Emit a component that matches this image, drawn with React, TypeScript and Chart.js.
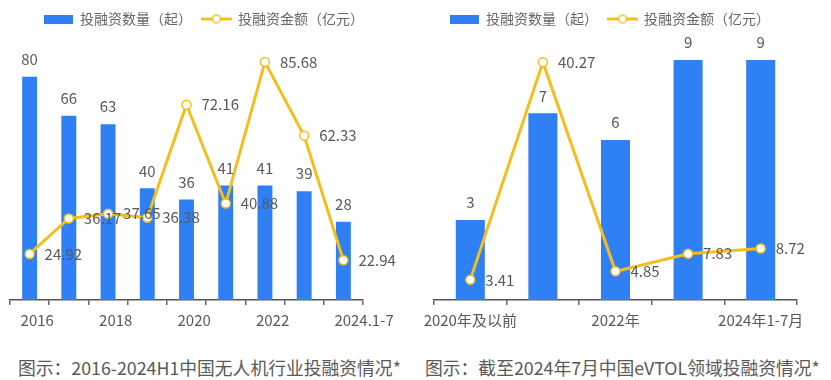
import React, { useEffect, useRef } from "react";
import { Chart, registerables } from "chart.js";

Chart.register(...registerables);

// ---------- data ----------
const droneCategories = ["2016", "2017", "2018", "2019", "2020", "2021", "2022", "2023", "2024.1-7"];
const droneCounts = [80, 66, 63, 40, 36, 41, 41, 39, 28];
const droneAmounts = [24.92, 36.17, 37.65, 36.38, 72.16, 40.88, 85.68, 62.33, 22.94];

const evtolCategories = ["2020年及以前", "2021年", "2022年", "2023年", "2024年1-7月"];
const evtolCounts = [3, 7, 6, 9, 9];
const evtolAmounts = [3.41, 40.27, 4.85, 7.83, 8.72];

const seriesNames = ["投融资数量（起）", "投融资金额（亿元）"];
const captions = [
  "图示：2016-2024H1中国无人机行业投融资情况*",
  "图示：截至2024年7月中国eVTOL领域投融资情况*",
];

// ---------- styles ----------
const FONT = '"Noto Sans CJK SC", "Noto Sans", sans-serif';
const BLUE = "#2F7FF5";
const GOLD = "#F4BE1C";
const TEXT = "#595959";

function makeBarIcon(): HTMLCanvasElement {
  const c = document.createElement("canvas");
  c.width = 29;
  c.height = 9;
  const g = c.getContext("2d")!;
  g.fillStyle = BLUE;
  g.fillRect(0, 0, 29, 9);
  return c;
}

function makeLineIcon(): HTMLCanvasElement {
  const c = document.createElement("canvas");
  c.width = 31;
  c.height = 11;
  const g = c.getContext("2d")!;
  g.strokeStyle = GOLD;
  g.lineWidth = 3;
  g.beginPath();
  g.moveTo(0, 5.5);
  g.lineTo(31, 5.5);
  g.stroke();
  g.beginPath();
  g.arc(15.5, 5.5, 4, 0, Math.PI * 2);
  g.fillStyle = "#fff";
  g.fill();
  g.lineWidth = 1.5;
  g.stroke();
  return c;
}

const valueLabels = {
  id: "valueLabels",
  afterDatasetsDraw(chart: any) {
    const ctx = chart.ctx;
    chart.data.datasets.forEach((ds: any, di: number) => {
      const meta = chart.getDatasetMeta(di);
      meta.data.forEach((el: any, i: number) => {
        const v = ds.data[i];
        ctx.save();
        ctx.font = `15px ${FONT}`;
        ctx.fillStyle = TEXT;
        ctx.textBaseline = "middle";
        if (meta.type === "bar") {
          ctx.textAlign = "center";
          ctx.fillText(String(v), el.x, el.y - 17.5);
        } else {
          ctx.textAlign = "left";
          ctx.fillText(Number(v).toFixed(2), el.x + 15, el.y);
        }
        ctx.restore();
      });
    });
  },
};

interface Cfg {
  categories: string[];
  counts: number[];
  amounts: number[];
  barMax: number;
  lineMin: number;
  lineMax: number;
  barPct: number;
  leftW: number;
  rightW: number;
  labelAlign: "start" | "center";
  labelOffset: number;
}

function buildChart(canvas: HTMLCanvasElement, cfg: Cfg) {
  const barIcon = makeBarIcon();
  const lineIcon = makeLineIcon();
  return new Chart(canvas, {
    type: "bar",
    data: {
      labels: cfg.categories,
      datasets: [
        {
          type: "bar",
          label: seriesNames[0],
          data: cfg.counts,
          backgroundColor: BLUE,
          yAxisID: "y",
          order: 2,
          categoryPercentage: 1,
          barPercentage: cfg.barPct,
        },
        {
          type: "line",
          label: seriesNames[1],
          data: cfg.amounts,
          borderColor: GOLD,
          borderWidth: 3,
          pointRadius: 4.5,
          pointBorderWidth: 1.5,
          pointBackgroundColor: "#fff",
          pointBorderColor: GOLD,
          tension: 0,
          yAxisID: "y1",
          order: 1,
        } as any,
      ],
    },
    options: {
      animation: false,
      responsive: false,
      maintainAspectRatio: false,
      layout: { padding: 0 },
      plugins: {
        tooltip: { enabled: false },
        legend: {
          display: true,
          position: "top",
          labels: {
            usePointStyle: true,
            pointStyleWidth: 29,
            padding: 10,
            color: "#666",
            font: { family: FONT, size: 14 },
            generateLabels: () => [
              { text: seriesNames[0], pointStyle: barIcon as any, fillStyle: BLUE, strokeStyle: BLUE, lineWidth: 0, hidden: false, datasetIndex: 0, fontColor: "#666" },
              { text: seriesNames[1], pointStyle: lineIcon as any, fillStyle: GOLD, strokeStyle: GOLD, lineWidth: 0, hidden: false, datasetIndex: 1, fontColor: "#666" },
            ],
          },
        },
      },
      scales: {
        x: {
          offset: true,
          grid: {
            display: true,
            offset: true,
            drawOnChartArea: false,
            drawTicks: true,
            tickLength: 5,
            color: "#666",
            lineWidth: 1.5,
          },
          border: { display: true, color: "#555", width: 1.5 },
          ticks: {
            autoSkip: false,
            maxRotation: 0,
            minRotation: 0,
            padding: 6,
            align: cfg.labelAlign,
            labelOffset: cfg.labelOffset,
            color: TEXT,
            font: { family: FONT, size: 15 },
            callback: (_v: any, i: number) => (i % 2 === 0 ? cfg.categories[i] : ""),
          },
          afterFit: (s: any) => {
            s.paddingLeft = 0;
            s.paddingRight = 0;
          },
        } as any,
        y: {
          position: "left",
          min: 0,
          max: cfg.barMax,
          ticks: { display: false },
          grid: { display: false },
          border: { display: false },
          afterFit: (s: any) => {
            s.width = cfg.leftW;
          },
        } as any,
        y1: {
          position: "right",
          min: cfg.lineMin,
          max: cfg.lineMax,
          ticks: { display: false },
          grid: { display: false },
          border: { display: false },
          afterFit: (s: any) => {
            s.width = cfg.rightW;
          },
        } as any,
      },
    },
    plugins: [valueLabels],
  });
}

export default function App() {
  const leftRef = useRef<HTMLCanvasElement>(null);
  const rightRef = useRef<HTMLCanvasElement>(null);

  useEffect(() => {
    const c1 = buildChart(leftRef.current!, {
      categories: droneCategories,
      counts: droneCounts,
      amounts: droneAmounts,
      barMax: 94.6,
      lineMin: 10.35,
      lineMax: 93.9,
      barPct: 0.38,
      leftW: 10,
      rightW: 45,
      labelAlign: "start",
      labelOffset: -9,
    });
    const c2 = buildChart(rightRef.current!, {
      categories: evtolCategories,
      counts: evtolCounts,
      amounts: evtolAmounts,
      barMax: 9.9,
      lineMin: 0,
      lineMax: 44.7,
      barPct: 0.4,
      leftW: 19,
      rightW: 8,
      labelAlign: "center",
      labelOffset: 0,
    });
    return () => {
      c1.destroy();
      c2.destroy();
    };
  }, []);

  const captionStyle: React.CSSProperties = {
    position: "absolute",
    top: 356,
    fontFamily: FONT,
    fontSize: 17.8,
    lineHeight: "22px",
    color: TEXT,
    whiteSpace: "nowrap",
  };

  return (
    <div style={{ position: "absolute", left: 0, top: 0, width: 831, height: 380, background: "#fff", overflow: "hidden" }}>
      <canvas ref={leftRef} width={408} height={333} style={{ position: "absolute", left: 0, top: 2, width: 408, height: 333 }} />
      <canvas ref={rightRef} width={390} height={333} style={{ position: "absolute", left: 415, top: 2, width: 390, height: 333 }} />
      <div style={{ ...captionStyle, left: 18 }}>{captions[0]}</div>
      <div style={{ ...captionStyle, left: 425 }}>{captions[1]}</div>
    </div>
  );
}
